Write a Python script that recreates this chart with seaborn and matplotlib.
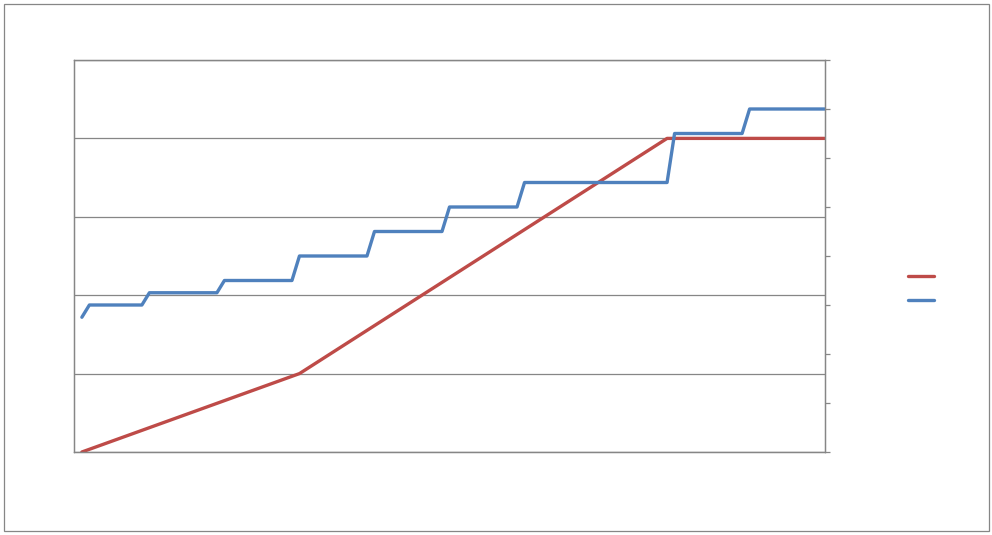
import matplotlib
matplotlib.use('Agg')
import matplotlib.pyplot as plt
import seaborn as sns
import pandas as pd
from matplotlib.lines import Line2D
from matplotlib.patches import Rectangle

# red series (left axis) - break points
red_x = [0, 29, 78, 99]
red_y = [0, 1, 4, 4]

# blue series (right axis) - step corners
blue_x = [0, 1, 8, 9, 18, 19, 28, 29, 38, 39, 48, 49, 58, 59, 78, 79, 88, 89, 99]
blue_y = [2.75, 3.0, 3.0, 3.25, 3.25, 3.5, 3.5, 4.0, 4.0, 4.5, 4.5, 5.0, 5.0, 5.5,
          5.5, 6.5, 6.5, 7.0, 7.0]

left_ticks = [0, 1, 2, 3, 4, 5]
right_ticks = [0, 1, 2, 3, 4, 5, 6, 7, 8]

red = '#BE4B48'
blue = '#4F81BD'
gray = '#868686'

sns.set_style('white')

fig = plt.figure(figsize=(9.92, 5.35), dpi=100)
W, H = 992, 535
ax = fig.add_axes([74 / W, (H - 452) / H, (825 - 74) / W, (452 - 60) / H])
ax2 = ax.twinx()

red_df = pd.DataFrame({'x': red_x, 'y': red_y})
blue_df = pd.DataFrame({'x': blue_x, 'y': blue_y})

sns.lineplot(data=red_df, x='x', y='y', ax=ax, color=red, linewidth=2.4,
             estimator=None, sort=False)
sns.lineplot(data=blue_df, x='x', y='y', ax=ax2, color=blue, linewidth=2.4,
             estimator=None, sort=False)

ax.set_xlim(-1.05, 99.05)
ax.set_ylim(0, 5)
ax2.set_ylim(0, 8)

# gridlines from the left axis
ax.set_yticks(left_ticks)
ax.yaxis.grid(True, color=gray, linewidth=0.9)
ax.xaxis.grid(False)
ax.set_axisbelow(True)
ax.tick_params(axis='both', length=0, labelleft=False, labelbottom=False)
ax.set_xlabel('')
ax.set_ylabel('')

ax2.set_yticks(right_ticks)
ax2.tick_params(axis='y', right=True, length=3.5, width=0.9, color=gray,
                labelright=False, direction='out')
ax2.tick_params(axis='x', length=0)
ax2.set_ylabel('')

for a in (ax, ax2):
    for s in a.spines.values():
        s.set_color(gray)
        s.set_linewidth(0.9)
    a.spines['top'].set_visible(True)

# outer chart border
fig.patches.append(Rectangle((4 / W, 4 / H), (989 - 4) / W, (531 - 4) / H,
                             transform=fig.transFigure, fill=False,
                             edgecolor=gray, linewidth=0.9))

handles = [Line2D([], [], color=red, linewidth=2.4),
           Line2D([], [], color=blue, linewidth=2.4)]
fig.legend(handles, [' ', ' '], loc='center left',
           bbox_to_anchor=(901 / W, 1 - 289 / H), frameon=False,
           handlelength=1.87, handletextpad=0.2, borderpad=0,
           labelspacing=0.75, fontsize=10)

plt.savefig('out.png', dpi=100)
plt.close()
